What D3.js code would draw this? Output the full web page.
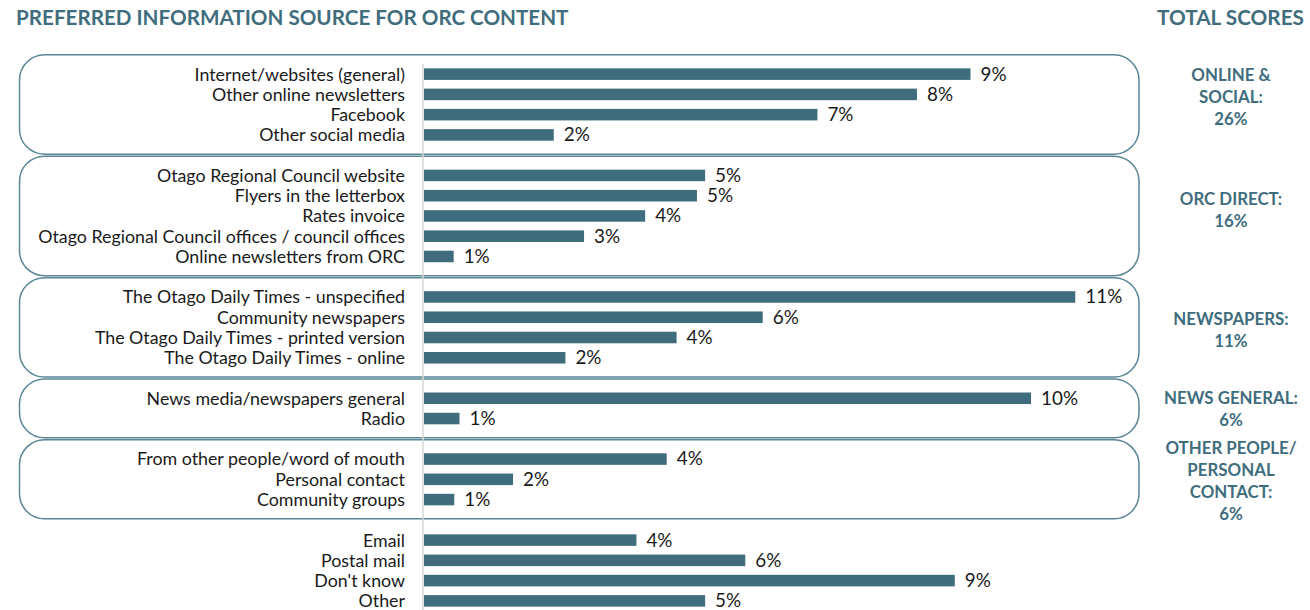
<!DOCTYPE html>
<html><head><meta charset="utf-8">
<script src="https://cdn.jsdelivr.net/npm/d3@7"></script>
<style>body{margin:0;background:#fff}svg{display:block}</style>
</head><body><svg id="c" width="1310" height="610"></svg>
<script>
const title = "PREFERRED INFORMATION SOURCE FOR ORC CONTENT";
const totalsTitle = "TOTAL SCORES";
const categories = [
  "Internet/websites (general)", "Other online newsletters", "Facebook", "Other social media",
  "Otago Regional Council website", "Flyers in the letterbox", "Rates invoice",
  "Otago Regional Council offices / council offices", "Online newsletters from ORC",
  "The Otago Daily Times - unspecified", "Community newspapers",
  "The Otago Daily Times - printed version", "The Otago Daily Times - online",
  "News media/newspapers general", "Radio",
  "From other people/word of mouth", "Personal contact", "Community groups",
  "Email", "Postal mail", "Don't know", "Other"
];
const values = [
  9.39, 8.47, 6.76, 2.23,
  4.83, 4.69, 3.80, 2.75, 0.51,
  11.19, 5.82, 4.34, 2.43,
  10.43, 0.61,
  4.17, 1.53, 0.52,
  3.65, 5.52, 9.12, 4.83
];
const groupOf = [0,0,0,0, 1,1,1,1,1, 2,2,2,2, 3,3, 4,4,4, 5,5,5,5];
const groupLabels = [
  ["ONLINE &", "SOCIAL:", "26%"],
  ["ORC DIRECT:", "16%"],
  ["NEWSPAPERS:", "11%"],
  ["NEWS GENERAL:", "6%"],
  ["OTHER PEOPLE/", "PERSONAL", "CONTACT:", "6%"]
];

const FONT = "Lato, 'Noto Sans', sans-serif";
const TEAL = "#3f6d7d";
const svg = d3.select("#c");

const rowIdx = categories.map((c, i) => i + groupOf[i]);
const nRows = d3.max(rowIdx) + 1;
const x = d3.scaleLinear().domain([0, 12]).range([424, 424 + 12 * 58.2]);
const y = d3.scaleBand().domain(d3.range(nRows)).range([64, 611])
  .paddingInner(0.43).paddingOuter(0.215);
const step = y.step();
const cy = i => y(i) + y.bandwidth() / 2;

function fit(sel, target) {
  const w = sel.node().getComputedTextLength();
  const fs = parseFloat(sel.attr("font-size"));
  sel.attr("font-size", (fs * target / w).toFixed(2));
  return fs * target / w;
}

// boxes
const boxes = groupLabels.map((lab, g) => {
  const idx = rowIdx.filter((r, i) => groupOf[i] === g);
  return {g, top: cy(d3.min(idx)) - step + 1, bottom: cy(d3.max(idx)) + step - 1, lab};
});
svg.append("g").selectAll("rect").data(boxes).join("rect")
  .attr("x", 19.5).attr("width", 1139 - 19.5)
  .attr("y", d => d.top).attr("height", d => d.bottom - d.top)
  .attr("rx", 25).attr("ry", 25)
  .attr("fill", "none").attr("stroke", "#5a8696").attr("stroke-width", 1.5);

// vertical axis line
svg.append("line").attr("x1", x(0) - 1).attr("x2", x(0) - 1)
  .attr("y1", 64).attr("y2", 610).attr("stroke", "#d6d6d6").attr("stroke-width", 1.5);

// bars
svg.append("g").selectAll("rect").data(values).join("rect")
  .attr("x", x(0)).attr("y", (d, i) => y(rowIdx[i]))
  .attr("width", d => x(d) - x(0)).attr("height", y.bandwidth())
  .attr("fill", TEAL);

// category labels
const catG = svg.append("g").attr("font-family", FONT).attr("fill", "#1a1a1a");
const cats = catG.selectAll("text").data(categories).join("text")
  .attr("x", 405).attr("y", (d, i) => cy(rowIdx[i])).attr("dy", "0.36em")
  .attr("text-anchor", "end").attr("font-size", 17).text(d => d);
const longest = cats.filter((d, i) => i === 7);
const catFs = fit(longest, 367);
cats.attr("font-size", catFs.toFixed(2));

// value labels
svg.append("g").attr("font-family", FONT).attr("fill", "#1a1a1a")
  .selectAll("text").data(values).join("text")
  .attr("x", d => x(d) + 10).attr("y", (d, i) => cy(rowIdx[i])).attr("dy", "0.34em")
  .attr("font-size", (catFs * 1.06).toFixed(2))
  .text(d => d3.format(".0f")(Math.round(d)) + "%");

// titles
const t1 = svg.append("text").attr("x", 16).attr("y", 25).attr("font-family", FONT)
  .attr("font-weight", 700).attr("fill", TEAL).attr("font-size", 20).text(title);
fit(t1, 553);
const t2 = svg.append("text").attr("x", 1304).attr("y", 25).attr("font-family", FONT)
  .attr("text-anchor", "end").attr("font-weight", 700).attr("fill", TEAL)
  .attr("font-size", 20).text(totalsTitle);
fit(t2, 147);

// group totals
const gl = svg.append("g").attr("font-family", FONT).attr("font-weight", 700)
  .attr("fill", TEAL).attr("text-anchor", "middle");
const probe = gl.append("text").attr("font-size", 16).text("NEWS GENERAL:");
const glFs = fit(probe, 134);
probe.remove();
const lh = 22;
const labelNudge = [-8, -6, 3, 1, 2];
boxes.forEach((b, gi) => {
  const mid = (b.top + b.bottom) / 2 + labelNudge[gi];
  const n = b.lab.length;
  b.lab.forEach((s, k) => {
    gl.append("text").attr("x", 1231).attr("y", mid + (k - (n - 1) / 2) * lh)
      .attr("dy", "0.36em").attr("font-size", glFs.toFixed(2)).text(s);
  });
});
</script></body></html>
